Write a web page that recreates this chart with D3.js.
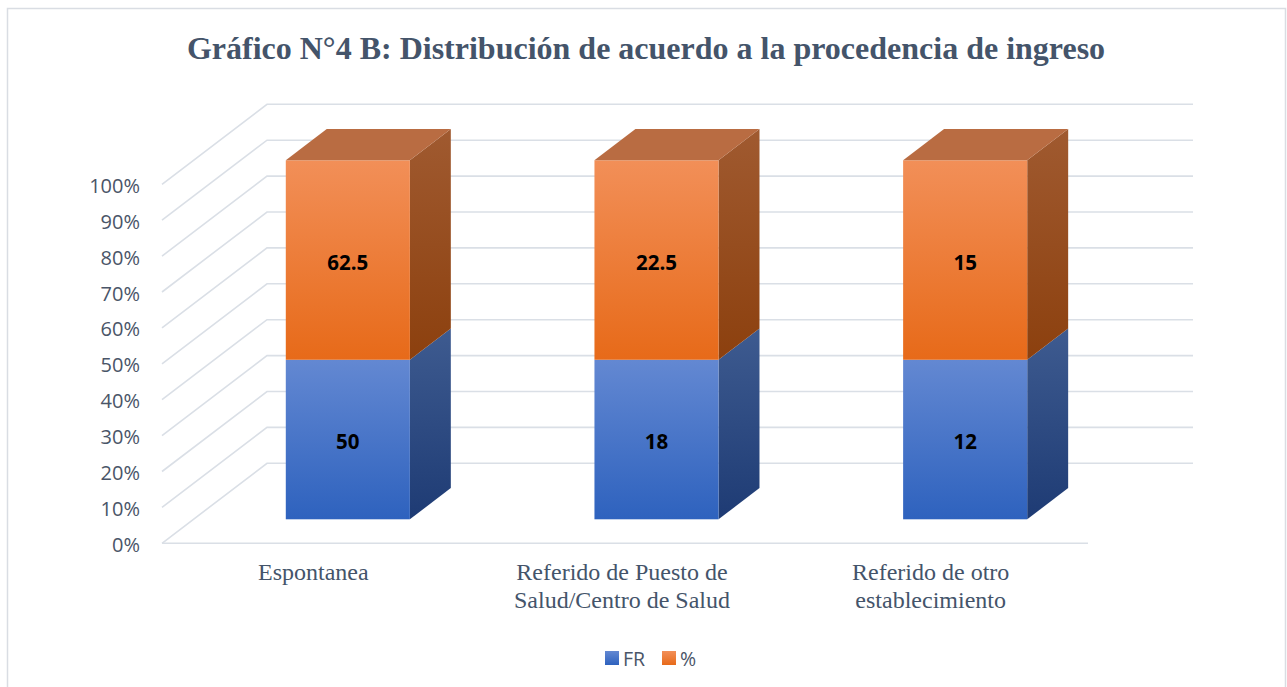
<!DOCTYPE html>
<html>
<head>
<meta charset="utf-8">
<script src="https://cdn.jsdelivr.net/npm/d3@7"></script>
<style>
  body { margin: 0; background: #fff; }
  svg { display: block; }
</style>
</head>
<body>
<svg id="chart" width="1287" height="687"></svg>
<script>
// data
var categories = ["Espontanea", "Referido de Puesto de Salud/Centro de Salud", "Referido de otro establecimiento"];
var catLines = [["Espontanea"], ["Referido de Puesto de", "Salud/Centro de Salud"], ["Referido de otro", "establecimiento"]];
var seriesNames = ["FR", "%"];
var frValues = [50, 18, 12];
var pctValues = [62.5, 22.5, 15];
var yTicks = [0, 0.1, 0.2, 0.3, 0.4, 0.5, 0.6, 0.7, 0.8, 0.9, 1];

var svg = d3.select("#chart");
var W = 1287, H = 687;

// outer frame
svg.append("rect").attr("x", 7.5).attr("y", 8.5).attr("width", W - 9).attr("height", H - 4)
    .attr("fill", "#fff").attr("stroke", "#D9DDE3").attr("stroke-width", 1.5);

svg.append("text").attr("x", 646).attr("y", 59)
    .attr("text-anchor", "middle")
    .style("font-family", "'Liberation Serif', 'Times New Roman', serif")
    .style("font-weight", "bold").style("font-size", "32px")
    .attr("fill", "#44546A")
    .text("Gráfico N°4 B: Distribución de acuerdo a la procedencia de ingreso");

// 3d plot frame
var x0 = 162, x1 = 1088;
var depthX = 105, depthY = -80;
var barD0 = 0.3, barD1 = 0.69;

var x = d3.scaleBand().domain(categories).range([x0, x1]).paddingInner(0.598).paddingOuter(0.299);
var y = d3.scaleLinear().domain([0, 1]).range([543.3, 184.3]);

var defs = svg.append("defs");
function grad(id, c1, c2) {
  var g = defs.append("linearGradient").attr("id", id).attr("x1", 0).attr("y1", 0).attr("x2", 0).attr("y2", 1);
  g.append("stop").attr("offset", "0%").attr("stop-color", c1);
  g.append("stop").attr("offset", "100%").attr("stop-color", c2);
}
grad("frFront", "#6388D2", "#2E62BE");
grad("frSide", "#3E5B90", "#1E3B74");
grad("pcFront", "#F28F58", "#E76A19");
grad("pcSide", "#A05A30", "#8C400E");

var grid = svg.append("g");
var gridColor = "#DADFE6";
// left wall diagonals + back wall lines
grid.selectAll(".diag").data(yTicks).join("path")
    .attr("fill", "none").attr("stroke", gridColor).attr("stroke-width", 1.6)
    .attr("d", function(d) {
      var yy = y(d);
      return "M" + x0 + "," + yy + "L" + (x0 + depthX) + "," + (yy + depthY) + "L" + (x1 + depthX) + "," + (yy + depthY);
    });
// floor front edge
grid.append("line").attr("x1", x0).attr("x2", x1).attr("y1", y(0)).attr("y2", y(0))
    .attr("stroke", gridColor).attr("stroke-width", 1.6);

// y labels
svg.append("g").selectAll("text").data(yTicks).join("text")
    .attr("x", 140).attr("y", function(d) { return y(d) + 1; })
    .attr("text-anchor", "end").attr("dominant-baseline", "central")
    .style("font-family", "'Open Sans', sans-serif").style("font-size", "20px")
    .attr("fill", "#4A5568")
    .text(function(d) { return Math.round(d * 100) + "%"; });

// stacked 100% bars
var rows = categories.map(function(c, i) {
  var tot = frValues[i] + pctValues[i];
  return [
    { cat: c, s: 0, lo: 0, hi: frValues[i] / tot, v: frValues[i] },
    { cat: c, s: 1, lo: frValues[i] / tot, hi: 1, v: pctValues[i] }
  ];
});

var fx = barD0 * depthX, fy = barD0 * depthY;
var bx = (barD1 - barD0) * depthX, by = (barD1 - barD0) * depthY;

var bars = svg.append("g");
rows.forEach(function(segs) {
  var g = bars.append("g");
  segs.forEach(function(d) {
    var left = x(d.cat) + fx, right = left + x.bandwidth();
    var top = y(d.hi) + fy, bot = y(d.lo) + fy;
    // side
    g.append("path")
      .attr("d", "M" + right + "," + bot + "L" + (right + bx) + "," + (bot + by) + "L" + (right + bx) + "," + (top + by) + "L" + right + "," + top + "Z")
      .attr("fill", d.s === 0 ? "url(#frSide)" : "url(#pcSide)");
    // front
    g.append("rect").attr("x", left).attr("y", top).attr("width", right - left).attr("height", bot - top)
      .attr("fill", d.s === 0 ? "url(#frFront)" : "url(#pcFront)");
    if (d.hi === 1) {
      g.append("path")
        .attr("d", "M" + left + "," + top + "L" + (left + bx) + "," + (top + by) + "L" + (right + bx) + "," + (top + by) + "L" + right + "," + top + "Z")
        .attr("fill", "#B96C42");
    }
    g.append("text")
      .attr("x", (left + right) / 2).attr("y", (top + bot) / 2 + 1.5)
      .attr("text-anchor", "middle").attr("dominant-baseline", "central")
      .style("font-family", "'Open Sans', sans-serif").style("font-weight", "bold").style("font-size", "20.5px")
      .attr("fill", "#000")
      .text(d.v);
  });
});

// category labels
var cl = svg.append("g");
categories.forEach(function(c, i) {
  var cx = x(c) + x.bandwidth() / 2 - 3;
  var t = cl.append("text")
    .attr("x", cx).attr("y", 580)
    .attr("text-anchor", "middle")
    .style("font-family", "'Liberation Serif', 'Times New Roman', serif").style("font-size", "24px")
    .attr("fill", "#44546A");
  catLines[i].forEach(function(line, j) {
    t.append("tspan").attr("x", cx).attr("dy", j === 0 ? 0 : 28).text(line);
  });
});

// legend
var lg = svg.append("g").attr("transform", "translate(605,650)");
var lx = [0, 57];
seriesNames.forEach(function(s, i) {
  lg.append("rect").attr("x", lx[i]).attr("y", 1).attr("width", 14).attr("height", 14)
    .attr("fill", i === 0 ? "url(#frFront)" : "url(#pcFront)");
  lg.append("text").attr("x", lx[i] + 18).attr("y", 8.5).attr("dominant-baseline", "central")
    .style("font-family", "'Open Sans', sans-serif").style("font-size", "19.5px")
    .attr("fill", "#4A5568").text(s);
});
</script>
</body>
</html>
